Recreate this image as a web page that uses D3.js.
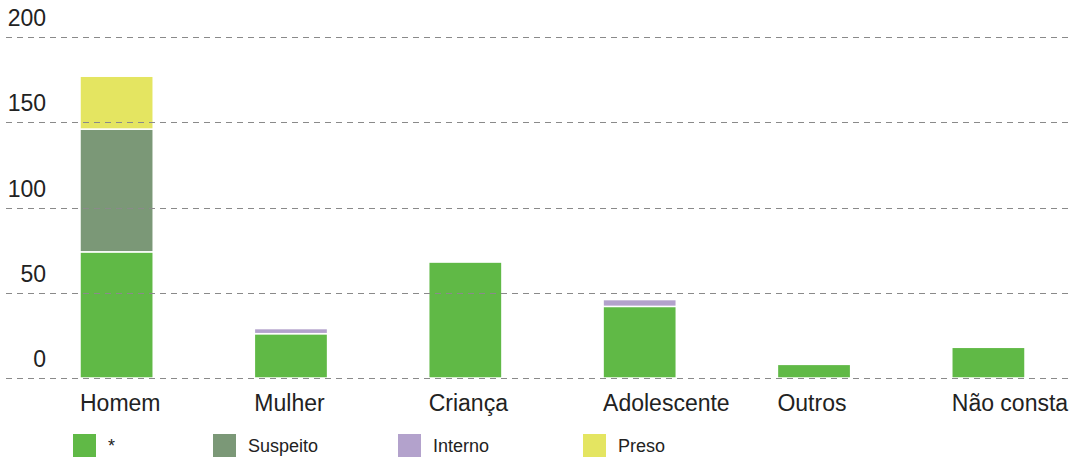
<!DOCTYPE html>
<html>
<head>
<meta charset="utf-8">
<script src="https://cdn.jsdelivr.net/npm/d3@7"></script>
<style>
  body { margin: 0; background: #fff; }
  text { font-family: "Liberation Sans", Arial, sans-serif; fill: #222; }
</style>
</head>
<body>
<div id="chart"></div>
<script>
var categories = ["Homem", "Mulher", "Criança", "Adolescente", "Outros", "Não consta"];
var seriesNames = ["*", "Suspeito", "Interno", "Preso"];
var asterisco = [74, 26, 68, 42, 8, 18];
var suspeito = [72, 0, 0, 0, 0, 0];
var interno = [0, 3, 0, 4, 0, 0];
var preso = [31, 0, 0, 0, 0, 0];
var yTicks = [0, 50, 100, 150, 200];

function init() {
    var width = 1078;
    var height = 459;

    var colors = ["#60b946", "#7b9877", "#b3a2cc", "#e4e561"];

    var svg = d3.select("#chart")
        .append("svg")
        .attr("width", width)
        .attr("height", height);

    // build rows for the stack
    var rows = categories.map(function (c, i) {
        return { cat: c, "*": asterisco[i], Suspeito: suspeito[i], Interno: interno[i], Preso: preso[i] };
    });
    var stacked = d3.stack().keys(seriesNames)(rows);

    var x = d3.scaleBand()
        .domain(categories)
        .range([80, 1025])
        .paddingInner(0.58)
        .paddingOuter(0);

    var y = d3.scaleLinear()
        .domain([0, 200])
        .range([378, 37]);

    // bars
    svg.selectAll("g.series")
        .data(stacked)
        .enter()
        .append("g")
        .attr("class", "series")
        .attr("fill", function (d, i) { return colors[i]; })
        .selectAll("rect")
        .data(function (d) { return d.filter(function (p) { return p[1] - p[0] > 0; }); })
        .enter()
        .append("rect")
        .attr("x", function (d) { return x(d.data.cat); })
        .attr("width", x.bandwidth())
        .attr("y", function (d) { return y(d[1]); })
        .attr("height", function (d) { return y(d[0]) - y(d[1]); })
        .attr("stroke", "#fff")
        .attr("stroke-width", 1.5);

    // dashed grid lines on top of the bars
    svg.selectAll("line.grid")
        .data(yTicks)
        .enter()
        .append("line")
        .attr("class", "grid")
        .attr("x1", 6)
        .attr("x2", 1072)
        .attr("y1", function (d) { return Math.round(y(d)) + 0.5; })
        .attr("y2", function (d) { return Math.round(y(d)) + 0.5; })
        .attr("stroke", "#8a8a8a")
        .attr("stroke-width", 1)
        .attr("stroke-dasharray", "6,5");

    svg.selectAll("text.ytick")
        .data(yTicks)
        .enter()
        .append("text")
        .attr("class", "ytick")
        .attr("x", 46)
        .attr("y", function (d) { return y(d) - 11; })
        .attr("text-anchor", "end")
        .style("font-size", "23px")
        .text(function (d) { return d; });

    // category labels, left aligned with the bars
    svg.selectAll("text.cat")
        .data(categories)
        .enter()
        .append("text")
        .attr("class", "cat")
        .attr("x", function (d) { return x(d); })
        .attr("y", 411)
        .style("font-size", "23px")
        .text(function (d) { return d; });

    // legend
    var legendX = [73, 213, 398, 583];
    var legend = svg.selectAll("g.legend")
        .data(seriesNames)
        .enter()
        .append("g")
        .attr("class", "legend")
        .attr("transform", function (d, i) { return "translate(" + legendX[i] + ",434)"; });

    legend.append("rect")
        .attr("width", 23)
        .attr("height", 23)
        .attr("fill", function (d, i) { return colors[i]; });

    legend.append("text")
        .attr("x", 35)
        .attr("y", 18)
        .style("font-size", "18px")
        .text(function (d) { return d; });
}

window.onload = init;
</script>
</body>
</html>
